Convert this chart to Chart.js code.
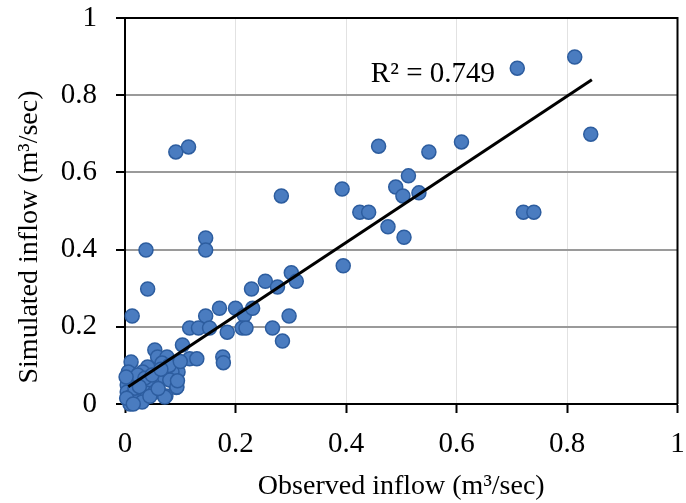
<!DOCTYPE html>
<html>
<head>
<meta charset="utf-8">
<script src="https://cdn.jsdelivr.net/npm/chart.js@4/dist/chart.umd.min.js"></script>
<style>
html,body{margin:0;padding:0;background:#fff;}
#wrap{width:686px;height:503px;position:relative;}
#probe{font-family:"Liberation Serif";position:absolute;left:-1000px;top:0;font-size:20px;}
</style>
</head>
<body>
<div id="probe">0.8 Observed</div>
<div id="wrap"><canvas id="c" width="686" height="503"></canvas></div>
<script>
const observed = [0.814,0.710,0.843,0.721,0.740,0.609,0.550,0.459,0.513,0.490,0.503,0.532,0.393,0.283,0.425,0.441,0.476,0.505,0.092,0.115,0.146,0.146,0.038,0.041,0.013,0.395,0.254,0.229,0.276,0.301,0.310,0.171,0.200,0.146,0.216,0.231,0.297,0.117,0.133,0.153,0.185,0.212,0.219,0.267,0.285,0.104,0.054,0.177,0.178,0.117,0.130,0.096,0.093,0.074,0.011,0.006,0.059,0.076,0.041,0.032,0.072,0.085,0.059,0.081,0.049,0.018,0.004,0.004,0.009,0.023,0.040,0.031,0.009,0.054,0.072,0.094,0.095,0.018,0.023,0.036,0.067,0.049,0.002,0.003,0.015,0.026,0.045,0.060,0.080,0.100,0.065];
const simulated = [0.899,0.870,0.699,0.497,0.497,0.679,0.653,0.668,0.591,0.562,0.539,0.547,0.557,0.539,0.497,0.497,0.459,0.432,0.653,0.666,0.430,0.399,0.399,0.298,0.228,0.358,0.318,0.298,0.303,0.340,0.318,0.248,0.248,0.228,0.230,0.248,0.228,0.197,0.197,0.197,0.186,0.197,0.197,0.197,0.163,0.153,0.140,0.122,0.107,0.117,0.117,0.083,0.043,0.021,0.109,0.083,0.122,0.122,0.096,0.083,0.080,0.083,0.062,0.062,0.054,0.062,0.049,0.031,0.018,0.018,0.028,0.005,0.000,0.031,0.018,0.044,0.060,0.041,0.075,0.067,0.106,0.075,0.070,0.015,0.000,0.045,0.020,0.040,0.100,0.110,0.090];
const trendX = [0.006, 0.845];
const trendY = [0.045, 0.840];
const tickValues = [0, 0.2, 0.4, 0.6, 0.8, 1];
const r2Label = "R\u00b2 = 0.749";
const r2Pos = {x: 0.445, y: 0.855};
const xTitle = "Observed inflow (m\u00b3/sec)";
const yTitle = "Simulated inflow (m\u00b3/sec)";

const FONT = "'Liberation Serif', 'Times New Roman', serif";
const points = observed.map((x, i) => ({x: x, y: simulated[i]}));
const trend = trendX.map((x, i) => ({x: x, y: trendY[i]}));

const framePlugin = {
  id: 'frame',
  afterDatasetsDraw(chart) {
    const {ctx, chartArea: a, scales} = chart;
    ctx.save();
    ctx.strokeStyle = '#000';
    ctx.lineWidth = 2;
    ctx.beginPath();
    ctx.moveTo(a.left, a.top);
    ctx.lineTo(a.right, a.top);
    ctx.lineTo(a.right, a.bottom);
    ctx.stroke();
    ctx.fillStyle = '#000';
    ctx.font = "29px " + FONT;
    ctx.textAlign = 'left';
    ctx.textBaseline = 'middle';
    ctx.fillText(r2Label, scales.x.getPixelForValue(r2Pos.x), scales.y.getPixelForValue(r2Pos.y));
    ctx.save();
    ctx.translate(30, (a.top + a.bottom) / 2 + 26);
    ctx.rotate(-Math.PI / 2);
    ctx.textAlign = 'center';
    ctx.font = "28px " + FONT;
    ctx.fillText(yTitle, 0, 0);
    ctx.restore();
    ctx.restore();
  }
};

function draw() {
new Chart(document.getElementById('c'), {
  type: 'scatter',
  data: {
    datasets: [
      {
        type: 'line',
        data: trend,
        borderColor: '#000',
        borderWidth: 3,
        pointRadius: 0,
        fill: false
      },
      {
        data: points,
        backgroundColor: '#4a7cc0',
        borderColor: '#2d5d9f',
        borderWidth: 1.5,
        pointRadius: 7,
        clip: false
      }
    ]
  },
  options: {
    responsive: false,
    animation: false,
    devicePixelRatio: 1,
    layout: {padding: {top: 18, right: 6, bottom: 0, left: 0}},
    plugins: {legend: {display: false}, tooltip: {enabled: false}},
    scales: {
      x: {
        type: 'linear', min: 0, max: 1,
        afterBuildTicks: s => { s.ticks = tickValues.map(v => ({value: v})); },
        afterFit: s => { s.height = 99; s.paddingLeft = 0; s.paddingRight = 0; },
        ticks: {color: '#000', font: {family: FONT, size: 29}, padding: 14, maxRotation: 0, callback: v => String(v)},
        grid: {color: c => (c.tick && (c.tick.value === 0 || c.tick.value === 1)) ? 'rgba(0,0,0,0)' : '#e2e2e2', lineWidth: 1, tickLength: 9, tickColor: '#000', tickWidth: 2},
        border: {color: '#000', width: 2},
        title: {display: true, text: xTitle, color: '#000', font: {family: FONT, size: 28}, padding: {top: 0, bottom: 0}}
      },
      y: {
        type: 'linear', min: 0, max: 1,
        afterBuildTicks: s => { s.ticks = tickValues.map(v => ({value: v})); },
        afterFit: s => { s.width = 125; s.paddingTop = 0; s.paddingBottom = 0; },
        ticks: {color: '#000', font: {family: FONT, size: 29}, padding: 19, callback: v => String(v)},
        grid: {color: c => (c.tick && (c.tick.value === 0 || c.tick.value === 1)) ? 'rgba(0,0,0,0)' : '#9a9a9a', lineWidth: 2, tickLength: 9, tickColor: '#000', tickWidth: 2},
        border: {color: '#000', width: 2},
        title: {display: false}
      }
    }
  },
  plugins: [framePlugin]
});
}
if (document.fonts && document.fonts.load) {
  document.fonts.load("29px 'Liberation Serif'").then(draw, draw);
} else { draw(); }
</script>
</body>
</html>
